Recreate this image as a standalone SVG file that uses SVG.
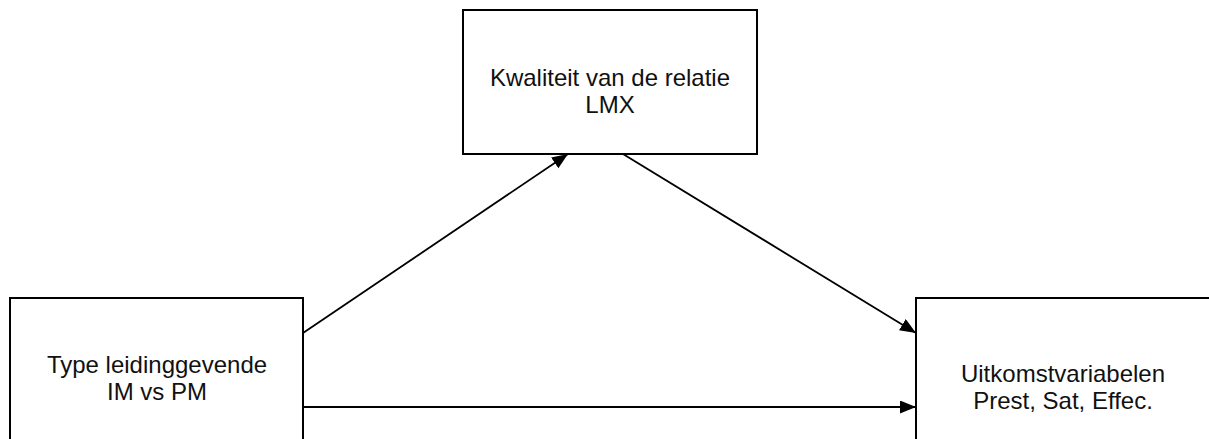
<svg xmlns="http://www.w3.org/2000/svg" width="1209" height="439" viewBox="0 0 1209 439">
<style>
.box{fill:#fff;stroke:#000;stroke-width:2}
.lbl{font-family:"Liberation Sans",Arial,sans-serif;font-size:24px;fill:#111;text-anchor:middle}
.edge{stroke:#000;stroke-width:1.8;fill:none}
</style>
<defs>
<marker id="ah" markerUnits="userSpaceOnUse" markerWidth="18" markerHeight="14" refX="16" refY="6.5" orient="auto">
<path d="M0,0 L16,6.5 L0,13 Z" fill="#000"/>
</marker>
</defs>
<rect width="1209" height="439" fill="#fff"/>
<g id="node-lmx">
<rect class="box" x="463" y="10" width="294" height="144"/>
<text class="lbl" x="610" y="86">Kwaliteit van de relatie</text>
<text class="lbl" x="610" y="113">LMX</text>
</g>
<g id="node-type">
<rect class="box" x="10" y="298" width="293" height="150"/>
<text class="lbl" x="157" y="373">Type leidinggevende</text>
<text class="lbl" x="157" y="400">IM vs PM</text>
</g>
<g id="node-uitkomst">
<rect class="box" x="916" y="298" width="296" height="150"/>
<text class="lbl" x="1063" y="382">Uitkomstvariabelen</text>
<text class="lbl" x="1063" y="409">Prest, Sat, Effec.</text>
</g>
<g id="connectors">
<line class="edge" x1="303" y1="333" x2="568" y2="154" marker-end="url(#ah)"/>
<line class="edge" x1="623" y1="154" x2="916" y2="333" marker-end="url(#ah)"/>
<line class="edge" x1="303" y1="407" x2="916" y2="407" marker-end="url(#ah)"/>
</g>
</svg>
